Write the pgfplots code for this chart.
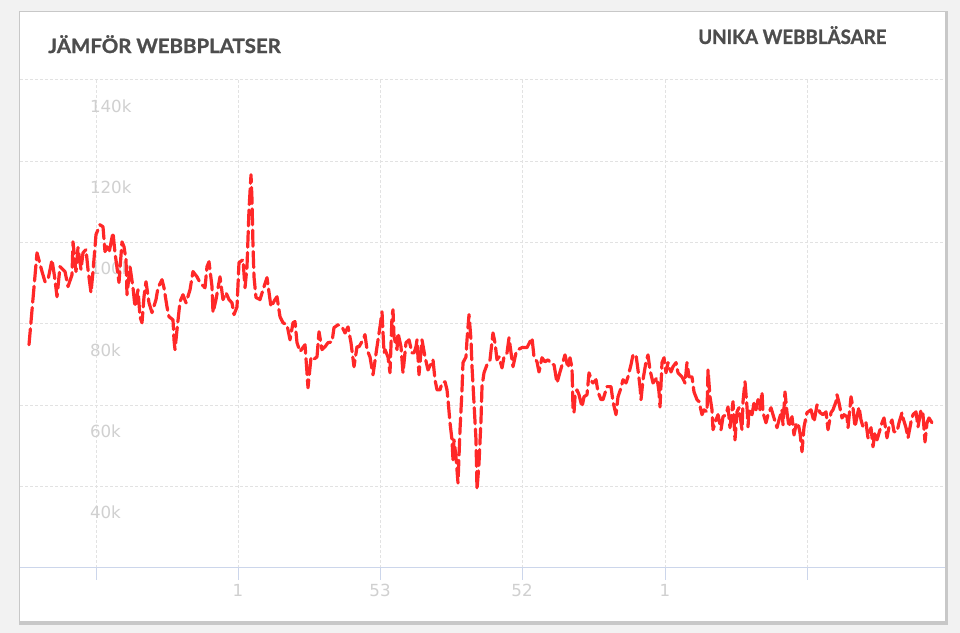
\documentclass[border=0pt]{standalone}
\usepackage{pgfplots}
\pgfplotsset{compat=1.18}
\usepackage{pgfplotstable}
\usepackage{fontspec}
\setmainfont{Lato}[BoldFeatures={FakeBold=1.2}]
\newfontfamily\tickfont{DejaVu Sans}

\definecolor{bgout}{RGB}{242,242,242}
\definecolor{cardshadow}{RGB}{200,200,200}
\definecolor{titlegray}{RGB}{77,77,77}
\definecolor{ticklbl}{RGB}{208,208,208}
\definecolor{gridc}{RGB}{226,226,226}
\definecolor{axisblue}{RGB}{204,214,235}
\definecolor{linered}{RGB}{255,40,40}

% unika webblasare, position along the x axis / value in thousands
\pgfplotstableread{
x y
29 74.9
37 97.5
42 92.9
45 90.4
48 90.9
52 95.8
55 90.9
57 86.7
60 94.1
65 92.9
68 89.2
72 92.1
73 100.2
76 92.9
78 98.8
81 93.4
83 97.5
86 98.3
88 93.4
91 87.7
93 92.9
96 102.0
100 104.4
103 103.9
105 97.8
107 99.0
109 97.5
113 102.5
115 97.5
119 90.2
122 100.2
124 99.0
126 95.8
127 87.2
130 94.1
133 88.9
135 84.2
138 88.4
140 81.8
142 80.3
144 86.7
146 90.4
149 85.2
152 82.8
156 86.0
158 88.9
162 90.9
164 88.9
167 84.2
169 81.8
173 81.0
174 76.1
175 73.7
177 78.6
180 85.5
183 87.2
186 85.2
190 88.4
193 92.9
197 91.6
200 90.2
205 88.9
207 94.1
209 95.3
212 89.2
213 82.8
216 86.0
220 91.6
223 86.0
226 87.7
229 86.0
232 85.2
234 82.3
237 84.2
239 95.1
243 95.8
245 88.9
247 94.1
249 108.1
251 116.7
252 110.6
253 99.0
254 91.6
256 86.5
260 86.0
263 88.4
267 91.4
271 84.2
275 86.0
277 86.7
280 81.8
283 80.3
287 79.8
290 76.1
293 80.3
295 80.6
297 75.4
300 73.2
305 74.9
307 68.0
308 64.3
311 71.7
313 71.2
317 71.9
319 78.1
322 73.7
325 74.4
328 75.4
332 75.6
334 79.1
338 79.8
342 79.3
345 77.8
348 79.3
351 75.4
354 69.5
357 74.4
359 74.4
363 76.1
365 77.4
367 73.7
370 71.9
373 67.5
377 74.4
380 79.3
382 83.0
384 72.9
385 73.7
388 71.9
390 68.0
392 81.8
393 83.5
394 76.9
397 73.7
398 77.8
401 74.4
403 68.0
406 75.4
409 76.1
412 72.9
414 72.9
416 74.4
417 76.1
419 67.5
422 76.1
425 71.9
428 68.7
433 71.2
435 66.3
437 63.8
440 63.8
442 65.5
445 65.8
447 63.8
448 61.4
450 55.7
452 51.5
453 46.6
454 51.5
456 47.3
457 44.1
458 40.9
460 54.0
462 63.8
463 70.5
466 71.9
467 76.1
469 82.3
471 76.1
472 69.5
474 60.6
476 51.5
477 39.2
479 45.8
481 56.4
482 64.6
484 68.0
487 70.0
490 71.2
493 77.8
495 75.4
497 71.2
499 71.9
502 69.2
504 71.9
507 72.9
509 76.6
512 71.2
513 69.5
516 72.9
518 73.7
522 74.2
527 74.2
532 76.6
534 71.9
537 70.7
539 68.2
542 71.7
545 70.7
548 71.2
552 70.0
554 70.0
557 65.5
560 68.2
563 70.7
565 72.4
568 69.2
570 71.7
572 69.2
573 59.4
574 58.2
575 62.1
577 63.8
579 62.6
582 59.6
584 62.1
587 62.6
589 68.0
592 65.8
593 65.5
596 66.3
598 63.3
601 61.4
603 61.4
607 64.6
611 64.6
613 60.9
616 57.7
618 62.1
621 64.3
623 66.3
626 65.5
628 67.0
631 70.0
633 72.4
636 72.4
638 68.7
640 64.6
641 61.4
643 66.3
646 70.7
648 72.4
650 68.7
653 65.5
657 66.8
659 63.3
660 59.6
662 70.5
664 71.7
666 68.0
668 70.5
671 68.2
673 69.5
676 70.5
678 68.0
682 67.0
685 65.5
687 70.5
689 67.0
692 67.0
694 63.3
697 61.4
699 60.9
702 57.7
704 58.9
707 58.4
708 68.7
710 62.1
712 58.9
713 54.0
716 56.4
718 57.7
721 54.0
723 57.2
726 57.7
728 59.6
730 54.5
733 60.9
735 51.5
737 58.4
739 59.4
742 54.0
743 60.9
745 65.8
747 59.6
748 54.7
749 58.9
752 57.7
754 60.6
756 58.9
758 61.4
760 58.9
762 63.3
763 58.2
766 55.7
768 57.7
771 59.4
773 57.7
777 54.5
779 56.4
782 58.9
783 55.2
785 63.3
787 58.2
789 54.7
792 57.2
794 52.7
796 55.2
798 55.7
800 53.2
802 48.6
804 54.7
807 58.2
811 58.9
814 55.9
817 60.1
820 58.2
823 57.7
826 58.4
828 54.0
831 58.2
833 58.9
836 60.9
837 62.6
839 60.6
842 56.9
844 57.7
847 57.2
848 54.5
851 62.1
853 59.4
855 54.7
857 57.2
859 59.6
861 56.4
863 54.7
866 55.7
868 52.0
871 54.5
873 49.8
875 53.5
877 51.5
880 54.0
882 55.7
884 56.9
887 52.0
889 54.7
892 56.4
894 53.5
897 53.5
899 55.7
902 58.2
903 56.9
906 54.5
908 52.0
911 55.9
913 57.7
916 58.4
918 54.7
921 58.9
923 57.7
925 51.0
927 55.7
929 56.9
932 55.7
935 55.2
}\webdata

\begin{document}
\begin{tikzpicture}
\begin{axis}[
    set layers,
    at={(0,0)}, anchor=south west,
    scale only axis,
    width=693.75pt, height=366pt,
    xmin=20, xmax=945,
    ymin=20, ymax=140,
    clip=false,
    axis x line*=bottom,
    axis y line*=left,
    y axis line style={draw=none},
    x axis line style={draw=axisblue, line width=0.75pt},
    xtick={96,238,380,522,665,807},
    xticklabels={,1,53,52,1,},
    ytick={20,40,60,80,100,120,140},
    yticklabels={,40k,60k,80k,100k,120k,140k},
    tick align=outside,
    major tick length=9pt,
    xtick style={draw=axisblue, line width=0.75pt},
    ytick style={draw=none},
    grid=major,
    grid style={draw=gridc, line width=0.75pt, dash pattern=on 2.25pt off 1.5pt},
    ticklabel style={font=\tickfont\fontsize{12.5}{14}\selectfont, text=ticklbl},
    xticklabel style={anchor=center, yshift=-7.5pt},
    yticklabel style={anchor=west, xshift=58pt, yshift=-19.5pt},
]
\begin{pgfonlayer}{axis background}
  \fill[bgout] (rel axis cs:-0.02162,-0.13320) rectangle (rel axis cs:1.01622,1.16393);
  \fill[cardshadow] (rel axis cs:-0.0015,-0.1160) rectangle (rel axis cs:1.0028,1.1414);
  \fill[white] (rel axis cs:0,-0.10861) rectangle (rel axis cs:1,1.13934);
\end{pgfonlayer}
\node[anchor=base west, text=titlegray, font=\bfseries\fontsize{14.8}{17}\selectfont, inner sep=0pt, xscale=1.035]
  at (rel axis cs:0.0303,1.0553) {JÄMFÖR WEBBPLATSER};
\node[anchor=base west, text=titlegray, font=\bfseries\fontsize{14.8}{17}\selectfont, inner sep=0pt, xscale=0.95]
  at (rel axis cs:0.733,1.0738) {UNIKA WEBBLÄSARE};
\addplot[linered, line width=2.4pt, dash pattern=on 12pt off 4pt, line cap=round, line join=round]
  table[x=x, y=y] {\webdata};
\end{axis}
\end{tikzpicture}
\end{document}
